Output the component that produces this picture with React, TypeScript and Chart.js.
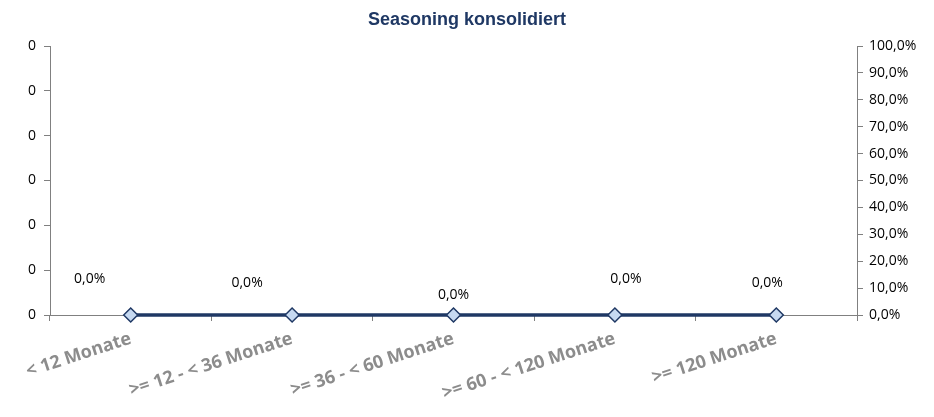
import React, { useEffect, useRef } from "react";
import { Chart, registerables } from "chart.js";

Chart.register(...registerables);

const categories = [
  "< 12 Monate",
  ">= 12 - < 36 Monate",
  ">= 36 - < 60 Monate",
  ">= 60 - < 120 Monate",
  ">= 120 Monate",
];
const volumeValues = [0, 0, 0, 0, 0];
const shareValues = [0, 0, 0, 0, 0];
const leftTickMax = 6;
const rightTickMax = 1;

const fmtPct = (v: number) => (v * 100).toFixed(1).replace(".", ",") + "%";

const labelPlugin = {
  id: "pointLabels",
  afterDatasetsDraw(chart: any, _args: any, opts: any) {
    const meta = chart.getDatasetMeta(1);
    const ctx = chart.ctx;
    ctx.save();
    ctx.font = "14px 'Open Sans'";
    ctx.fillStyle = "#000000";
    ctx.textAlign = "center";
    ctx.textBaseline = "middle";
    meta.data.forEach((pt: any, i: number) => {
      const v = chart.data.datasets[1].data[i];
      const off = opts.offsets[i] || [0, -20];
      ctx.fillText(fmtPct(v), pt.x + off[0], pt.y + off[1]);
    });
    ctx.restore();
  },
};

export default function App() {
  const ref = useRef<HTMLCanvasElement | null>(null);
  useEffect(() => {
    if (!ref.current) return;
    const chart = new Chart(ref.current, {
      type: "bar",
      data: {
        labels: categories,
        datasets: [
          {
            type: "bar",
            label: "Volumen",
            data: volumeValues,
            yAxisID: "y",
            backgroundColor: "#4F81BD",
          },
          {
            type: "line",
            label: "Anteil",
            data: shareValues,
            yAxisID: "y1",
            borderColor: "#1F3864",
            borderWidth: 3.5,
            pointStyle: "rectRot",
            pointRadius: 7,
            pointBackgroundColor: "#C6D9F1",
            pointBorderColor: "#1F3864",
            pointBorderWidth: 1.5,
            clip: false as any,
          } as any,
        ],
      },
      options: {
        responsive: false,
        animation: false,
        layout: { padding: 0 },
        plugins: {
          legend: { display: false },
          tooltip: { enabled: false },
          title: {
            display: true,
            text: "Seasoning konsolidiert",
            color: "#1F3864",
            font: { family: "'Liberation Sans', Arial", size: 18, weight: "bold" },
            padding: { top: 9, bottom: 15.4 },
          },
          pointLabels: {
            offsets: [
              [-41, -36],
              [-45, -32],
              [0, -20],
              [11, -36],
              [-9, -32],
            ],
          },
        } as any,
        scales: {
          x: {
            offset: true,
            grid: {
              offset: true,
              drawOnChartArea: false,
              color: "#808080",
              tickLength: 6,
            },
            border: { color: "#808080", width: 1 },
            ticks: {
              autoSkip: false,
              minRotation: 18,
              maxRotation: 18,
              padding: 7,
              color: "#8C8C8C",
              font: { family: "'Open Sans'", size: 18, weight: "bold" },
            },
            afterFit(scale: any) {
              scale.height = 102;
            },
          },
          y: {
            position: "left",
            min: 0,
            max: leftTickMax,
            grid: { drawOnChartArea: false, color: "#808080", tickLength: 6 },
            border: { color: "#808080", width: 1 },
            ticks: {
              stepSize: 1,
              padding: 8,
              color: "#000000",
              font: { family: "'Open Sans'", size: 14 },
              callback: () => "0",
            },
            afterFit(scale: any) {
              scale.width = 50;
            },
          },
          y1: {
            position: "right",
            min: 0,
            max: rightTickMax,
            grid: { drawOnChartArea: false, color: "#808080", tickLength: 6 },
            border: { color: "#808080", width: 1 },
            ticks: {
              stepSize: 0.1,
              padding: 6,
              color: "#000000",
              font: { family: "'Open Sans'", size: 14 },
              callback: (v: any) => fmtPct(Number(v)),
            },
            afterFit(scale: any) {
              scale.width = 77;
            },
          },
        },
      },
      plugins: [labelPlugin],
    });
    return () => chart.destroy();
  }, []);
  return (
    <div style={{ position: "absolute", left: 0, top: 0, width: 934, height: 417, background: "#ffffff" }}>
      <canvas ref={ref} width={934} height={417} />
    </div>
  );
}
